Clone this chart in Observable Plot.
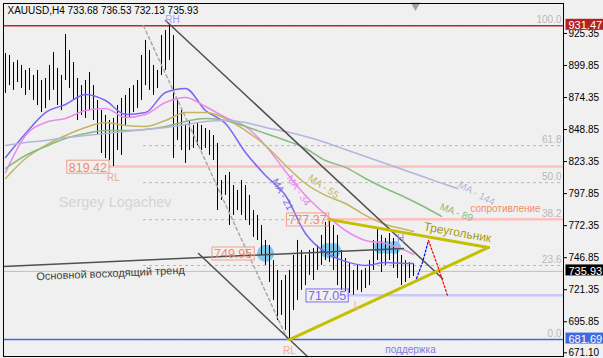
<!DOCTYPE html>
<html><head><meta charset="utf-8">
<script src="https://cdn.jsdelivr.net/npm/d3@7"></script>
<script src="https://cdn.jsdelivr.net/npm/@observablehq/plot@0.6"></script>
<style>
html,body{margin:0;padding:0;background:#f0f0f0;}
#chart{width:603px;height:358px;overflow:hidden;}
</style></head><body><div id="chart"></div>
<script>
const title = "XAUUSD,H4 733.68 736.53 732.13 735.93";
const yTicks = [925.35, 899.85, 874.35, 848.85, 823.35, 797.85, 772.35, 746.85, 721.35, 695.85, 671.10];

const barHigh = [909.4, 907.8, 902.2, 903.8, 899.9, 895.9, 897.5, 891.9, 895.9, 887.9,
  889.5, 899.9, 910.2, 897.5, 891.9, 924.5, 911.8, 902.2, 889.5, 883.9,
  887.9, 894.3, 883.9, 872.0, 864.0, 860.1, 856.1, 857.7, 868.0, 873.6,
  876.0, 881.5, 883.9, 887.9, 907.8, 919.8, 911.8, 899.9, 895.9, 923.7,
  927.7, 931.47, 923.7, 872.0, 864.0, 852.1, 856.1, 852.1, 854.5, 852.1,
  849.7, 848.1, 844.1, 837.8, 808.3, 812.3, 814.7, 804.3, 800.4, 808.3,
  804.3, 796.4, 784.4, 780.5, 772.5, 760.6, 756.6, 744.6, 736.7, 728.7,
  732.7, 736.7, 748.6, 760.6, 752.6, 748.6, 752.6, 754.2, 756.6, 764.5,
  774.9, 777.37, 772.5, 764.5, 752.6, 746.2, 743.0, 736.7, 740.7, 736.7,
  738.3, 744.6, 760.6, 770.1, 764.5, 762.2, 766.1, 762.2, 752.6, 748.6,
  744.6, 743.0, 741.5];
const barLow = [877.6, 883.9, 880.0, 886.3, 881.5, 876.0, 880.0, 872.0, 868.0, 862.4,
  865.6, 872.0, 880.0, 868.0, 864.0, 887.9, 881.5, 872.0, 856.1, 860.1,
  857.7, 864.0, 856.1, 844.1, 829.8, 825.8, 824.2, 819.42, 832.2, 828.2,
  852.1, 857.7, 862.4, 865.6, 872.0, 883.9, 880.0, 876.0, 881.5, 891.9,
  895.9, 903.8, 825.8, 840.2, 832.2, 821.9, 832.2, 833.8, 836.2, 832.2,
  833.8, 828.2, 824.2, 784.4, 792.4, 796.4, 772.5, 780.5, 784.4, 780.5,
  776.5, 772.5, 763.0, 760.6, 748.6, 740.7, 727.1, 712.8, 696.9, 700.9,
  688.9, 681.69, 704.8, 712.8, 720.8, 724.7, 732.7, 728.7, 736.7, 740.7,
  744.6, 743.0, 736.7, 724.7, 720.8, 720.0, 718.5, 717.05, 720.8, 719.2,
  722.4, 724.7, 736.7, 744.6, 735.1, 740.7, 744.6, 738.3, 730.3, 724.7,
  727.1, 730.3, 731.9];

const maIdx = [0,5,10,15,20,25,30,35,40,45,50,55,60,65,70,75,80,85,90,95,100,102];
const ma21 = [826.6, 845.7, 862.4, 868.8, 876.8, 872.0, 860.9, 862.4, 878.4, 881.6, 864.0, 853.7, 830.6, 812.3, 796.4, 766.1, 751.0, 743.9, 740.7, 743.0, 742.3, 742.3];
const ma34 = [814.7, 844.1, 854.5, 857.7, 864.0, 865.6, 858.5, 860.9, 870.4, 874.4, 867.2, 858.5, 851.3, 836.2, 815.5, 796.4, 781.3, 768.5, 760.6, 758.2, 752.6, 749.4];
const ma55 = [809.9, 825.8, 836.2, 844.1, 850.5, 854.5, 852.1, 851.3, 856.1, 862.4, 862.4, 857.7, 848.1, 836.2, 820.3, 805.9, 796.4, 790.0, 780.5, 773.3, 769.3, 767.7];
const ma89Idx = [0,5,10,15,20,25,30,35,40,45,50,55,60,65,70,75,80,85,90,95,100,105,109];
const ma89 = [817.9, 828.2, 835.4, 841.8, 845.7, 848.1, 848.1, 848.9, 851.3, 855.3, 857.7, 856.1, 851.3, 845.7, 840.2, 833.8, 824.2, 818.7, 809.9, 801.9, 794.8, 786.8, 779.7];
const ma144Idx = [0,5,10,15,20,25,30,35,40,45,50,55,60,65,70,75,80,85,90,95,100,105,110,113];
const ma144 = [836.2, 838.6, 840.2, 842.5, 844.1, 845.7, 847.3, 848.9, 850.5, 852.9, 855.3, 856.1, 854.5, 850.5, 847.3, 843.3, 838.6, 833.0, 827.4, 821.9, 816.3, 810.7, 805.1, 801.9];

const fibLevels = [931.47, 836.05, 806.58, 777.11, 740.64, 681.69];
const fibNames = ["100.0", "61.8", "50.0", "38.2", "23.6", "0.0"];

// line objects: [i1, p1, i2, p2]
const channelTop = [40, 935.7, 109.25, 730.3];
const channelBottom = [48.25, 750.2, 75.5, 668.2];
const mainTrend = [-0.5, 739.9, 99.5, 754.2];
const fibDiag = [34.5, 931.47, 70.5, 681.69];
const triUpper = [80.75, 777.37, 120.75, 755.0];
const triLower = [71, 681.69, 120.75, 755.0];
const blueFcI = [102.75, 104.25, 105.75];
const blueFcP = [730.3, 743.0, 760.6];
const redFcI = [105.75, 108, 110.5];
const redFcP = [760.6, 740.7, 716.8];

const ellI = [65, 80.5, 82, 93.75, 95.5, 97.25];
const ellP = [750.2, 752.6, 752.6, 755.0, 755.0, 755.0];
const ellR = [8.5, 7.5, 7.5, 6.5, 6.5, 6.5];

const levels = {rh: 931.47, rl1: 819.42, res: 777.37, l: 717.05, sup: 681.69, last: 735.93};

const bars = barHigh.map((h, i) => ({i, high: h, low: barLow[i]}));
const mkLine = (idx, vals) => idx.map((i, k) => ({i, p: vals[k]}));
const seg = a => [{i: a[0], p: a[1]}, {i: a[2], p: a[3]}];

const salmon = "#f08c6c", salmonBox = "#f2a085";
const txt = (label, i, p, o = {}) => Plot.text([label], {x: () => i, y: () => p, text: d => d, ...o});

const chart = Plot.plot({
  width: 603, height: 358,
  marginLeft: 3, marginRight: 40, marginTop: 3, marginBottom: 2,
  style: {background: "#f0f0f0", fontFamily: "Liberation Sans, Arial, sans-serif", fontSize: "10px", overflow: "visible"},
  x: {domain: [-0.5, 139.5], axis: null},
  y: {domain: [668.2, 949.2], axis: "right", ticks: yTicks, tickFormat: d => d.toFixed(2), tickSize: 3, tickPadding: 2, label: null},
  r: {type: "identity"},
  marks: [
    Plot.dot(ellI.map((i, k) => ({i, p: ellP[k], r: ellR[k]})), {x: "i", y: "p", r: "r", fill: "#80c6ea", stroke: "none"}),
    Plot.ruleY(fibLevels, {x1: 34.5, x2: 139.5, stroke: "#b8b8b8", strokeDasharray: "3,3"}),
    Plot.text(fibLevels, {y: d => d, text: (d, k) => fibNames[k], frameAnchor: "right", textAnchor: "end", dx: -2, dy: -6, fill: "#b8b8b8", fontSize: 10}),
    Plot.ruleY([levels.last], {stroke: "#c0c0c0", strokeWidth: 1}),
    Plot.ruleY([levels.rl1], {x1: 25.75, x2: 139.5, stroke: "#ffc0c0", strokeWidth: 2.5}),
    Plot.ruleY([levels.res], {x1: 80.75, x2: 139.5, stroke: "#ffc0c0", strokeWidth: 2.5}),
    Plot.ruleY([levels.l], {x1: 85.5, x2: 139.5, stroke: "#c8c8fa", strokeWidth: 2.5}),
    Plot.ruleY([levels.sup], {stroke: "#4169e1", strokeWidth: 1.5}),
    Plot.ruleY([levels.rh], {stroke: "#c0272d", strokeWidth: 1.5}),
    txt("Sergey Logachev", 27.4, 790.8, {fontSize: 14.5, fill: "#d4d4d4"}),
    Plot.ruleX(bars, {x: "i", y1: "low", y2: "high", stroke: "black", strokeWidth: 1}),
    Plot.line(mkLine(maIdx, ma21), {x: "i", y: "p", stroke: "#7b68ee", curve: "monotone-x"}),
    Plot.line(mkLine(maIdx, ma34), {x: "i", y: "p", stroke: "#ee88ee", curve: "monotone-x"}),
    Plot.line(mkLine(maIdx, ma55), {x: "i", y: "p", stroke: "#c2b660", curve: "monotone-x"}),
    Plot.line(mkLine(ma89Idx, ma89), {x: "i", y: "p", stroke: "#88bb80", curve: "monotone-x"}),
    Plot.line(mkLine(ma144Idx, ma144), {x: "i", y: "p", stroke: "#b4b4dc", curve: "monotone-x"}),
    Plot.line(seg(fibDiag), {x: "i", y: "p", stroke: "#a8a8a8", strokeDasharray: "3,3"}),
    Plot.line(seg(channelTop), {x: "i", y: "p", stroke: "#505050"}),
    Plot.line(seg(channelBottom), {x: "i", y: "p", stroke: "#505050"}),
    Plot.line(seg(mainTrend), {x: "i", y: "p", stroke: "#505050"}),
    Plot.line(seg(triUpper), {x: "i", y: "p", stroke: "#c4c000", strokeWidth: 3}),
    Plot.line(seg(triLower), {x: "i", y: "p", stroke: "#c4c000", strokeWidth: 3}),
    Plot.line(mkLine(blueFcI, blueFcP), {x: "i", y: "p", stroke: "#0000ff", strokeDasharray: "2,2", strokeWidth: 1.2}),
    Plot.line(mkLine(redFcI, redFcP), {x: "i", y: "p", stroke: "#ff0000", strokeDasharray: "2,2", strokeWidth: 1.2}),
    txt("Основной восходящий тренд", 26.25, 734.3, {fontSize: 11, fill: "#404040", rotate: -2.5}),
    txt("Треугольник", 113, 766.9, {fontSize: 12, fill: "#a89a00", rotate: 10}),
    txt("сопротивление", 125, 786.0, {fontSize: 10, fill: salmon}),
    txt("поддержка", 101.25, 673.8, {fontSize: 10, fill: "#8080e0"}),
    txt("RH", 41.75, 936.0, {fontSize: 10, fill: "#a0a0f0"}),
    txt("RL", 27, 810.7, {fontSize: 10, fill: "#f4a8a0"}),
    txt("RL", 71, 673.0, {fontSize: 10, fill: "#f4a8a0"}),
    txt("L", 87.75, 708.8, {fontSize: 10, fill: "#f4b090"}),
    txt("H", 98.75, 762.2, {fontSize: 10, fill: "#9090f0"}),
    txt("MA - 21", 69.25, 797.2, {fontSize: 10, fill: "#7b68ee", rotate: 62}),
    txt("MA - 34", 73.25, 800.4, {fontSize: 10, fill: "#ee88ee", rotate: 56}),
    txt("MA - 55", 79.5, 803.5, {fontSize: 10, fill: "#c2b660", rotate: 34}),
    txt("MA - 89", 112.75, 782.9, {fontSize: 10, fill: "#88bb80", rotate: 21}),
    txt("MA - 144", 117.75, 798, {fontSize: 10, fill: "#b4b4dc", rotate: 28}),
    txt("819.42", 20.6, 818.5, {fontSize: 12.5, fill: salmon}),
    txt("777.37", 75.5, 776.5, {fontSize: 12.5, fill: salmon}),
    txt("749.95", 56.9, 749.4, {fontSize: 12.5, fill: salmon}),
    txt("717.05", 80.4, 716.0, {fontSize: 12.5, fill: "#7b68ee"}),
    Plot.dot([0], {x: () => 102.5, frameAnchor: "top", dy: 2, symbol: "triangle", rotate: 180, r: 3.5, fill: "#a0a0a0", stroke: "none"}),
    Plot.text([title], {frameAnchor: "top-left", dx: 4, dy: 3, lineAnchor: "top", textAnchor: "start", fontSize: 10, fill: "black"}),
    Plot.text([levels.rh, levels.last, levels.sup], {y: d => d, text: d => d.toFixed(2), frameAnchor: "right", dx: 5, textAnchor: "start", fontSize: 11, fill: "white"}),
    Plot.frame({stroke: "black"})
  ]
});
document.getElementById("chart").append(chart);

// boxes behind / around labelled values
const boxStyles = {
  "819.42": {stroke: salmonBox, fill: "none"},
  "777.37": {stroke: salmonBox, fill: "none"},
  "749.95": {stroke: salmonBox, fill: "none"},
  "717.05": {stroke: "#8070f0", fill: "none"},
  "931.47": {stroke: "none", fill: "#b22222", width: 40},
  "735.93": {stroke: "none", fill: "#000000", width: 40},
  "681.69": {stroke: "none", fill: "#4169e1", width: 40}
};
chart.querySelectorAll("text").forEach(t => {
  const s = boxStyles[t.textContent];
  if (!s) return;
  const b = t.getBBox();
  const padX = s.width ? 3 : 2;
  const r = document.createElementNS("http://www.w3.org/2000/svg", "rect");
  r.setAttribute("x", b.x - padX);
  r.setAttribute("y", b.y - 0.5);
  r.setAttribute("width", s.width != null ? s.width : b.width + 2 * padX);
  r.setAttribute("height", b.height - 1);
  r.setAttribute("fill", s.fill);
  r.setAttribute("stroke", s.stroke);
  const tr = t.getAttribute("transform");
  if (tr) r.setAttribute("transform", tr);
  t.parentNode.insertBefore(r, t);
});
</script></body></html>
